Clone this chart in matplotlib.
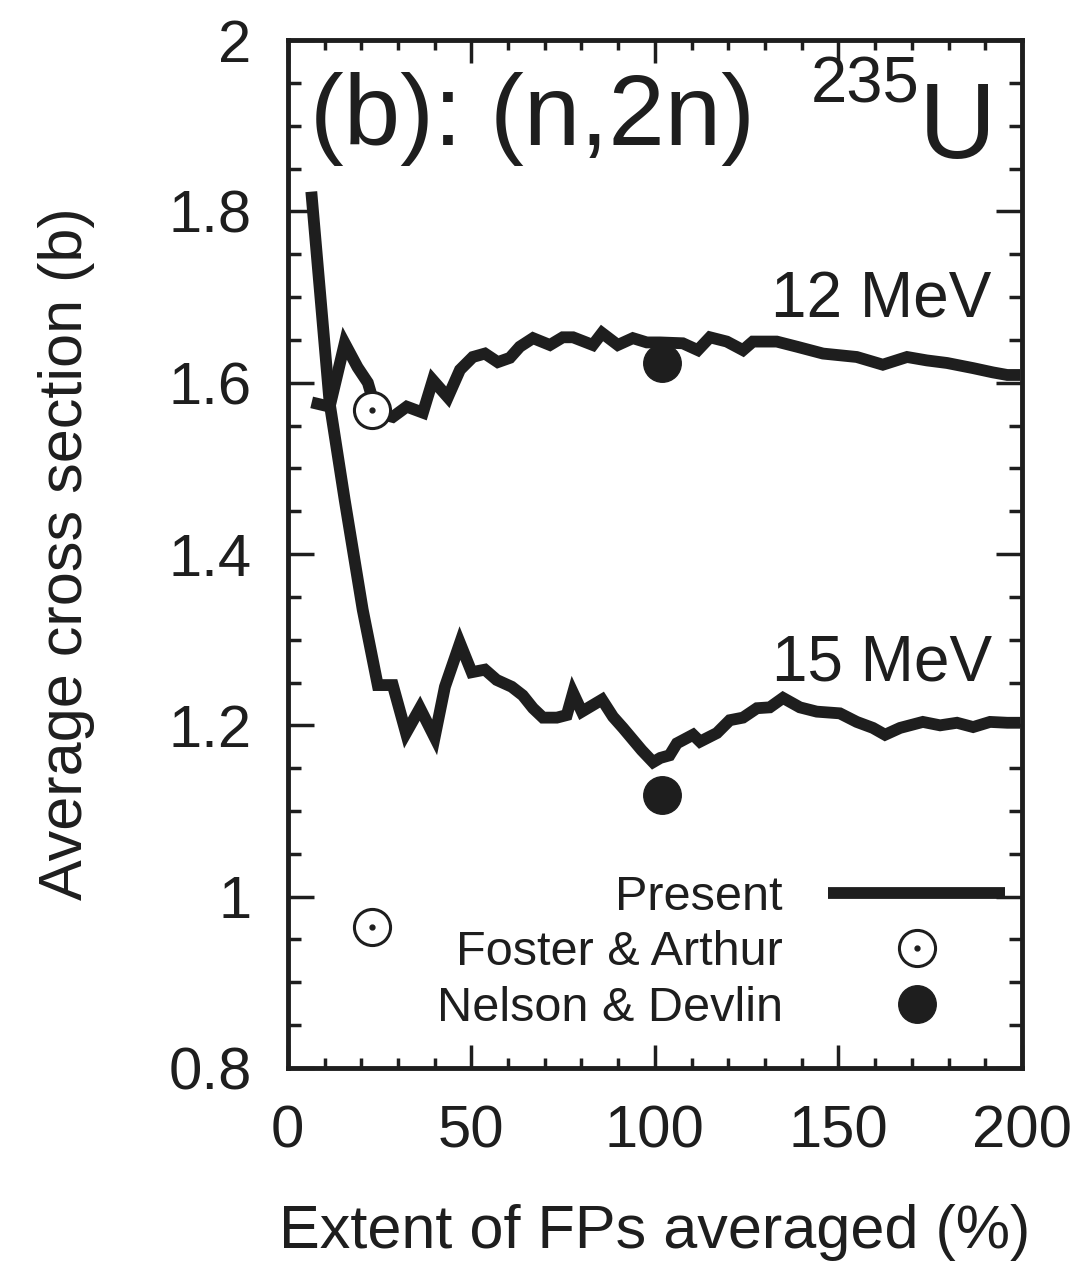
import matplotlib
matplotlib.use('Agg')
import matplotlib.pyplot as plt
from matplotlib.legend_handler import HandlerTuple
from matplotlib.ticker import MultipleLocator

plt.rcParams['font.family'] = ['Liberation Sans', 'DejaVu Sans']

INK = '#1e1e1e'

# 15 MeV average cross section vs extent of FPs averaged (%)
x_15 = [6.4, 11.4, 15.5, 20.4, 24.5, 28.6, 32.2, 36.0, 40.0, 42.8, 46.9, 50.1,
        53.7, 56.9, 61.0, 64.0, 66.8, 69.5, 73.3, 76.0, 77.7, 80.1, 85.6, 88.6,
        91.3, 96.4, 99.5, 101.5, 104.0, 106.0, 110.4, 112.3, 116.9, 120.4, 124.0,
        127.8, 131.3, 134.9, 139.5, 144.1, 150.4, 155.0, 159.4, 162.7, 166.8,
        173.0, 177.7, 182.3, 186.7, 191.3, 196.0, 199.5]
y_15 = [1.823, 1.576, 1.463, 1.335, 1.247, 1.247, 1.191, 1.220, 1.186, 1.245,
        1.296, 1.262, 1.265, 1.253, 1.245, 1.235, 1.220, 1.209, 1.209, 1.212,
        1.238, 1.216, 1.230, 1.210, 1.197, 1.171, 1.157, 1.162, 1.165, 1.179,
        1.189, 1.181, 1.191, 1.206, 1.209, 1.220, 1.221, 1.232, 1.221, 1.216,
        1.214, 1.204, 1.197, 1.189, 1.197, 1.204, 1.200, 1.203, 1.198, 1.204,
        1.203, 1.203]

# 12 MeV
x_12 = [6.5, 11.4, 15.5, 19.0, 21.8, 24.2, 28.6, 32.4, 36.8, 39.5, 43.6, 46.9,
        50.4, 53.7, 57.2, 60.5, 63.2, 66.8, 71.4, 74.9, 77.7, 83.1, 85.6, 89.9,
        94.0, 97.8, 101.4, 107.6, 111.7, 115.0, 119.6, 124.0, 126.7, 133.2,
        138.7, 145.8, 155.0, 162.1, 168.7, 174.1, 179.6, 186.7, 192.1, 196.0,
        199.5]
y_12 = [1.577, 1.572, 1.646, 1.618, 1.600, 1.565, 1.560, 1.572, 1.565, 1.603,
        1.583, 1.615, 1.630, 1.634, 1.624, 1.629, 1.642, 1.652, 1.644, 1.653,
        1.653, 1.644, 1.658, 1.644, 1.652, 1.647, 1.647, 1.646, 1.638, 1.653,
        1.648, 1.638, 1.648, 1.648, 1.642, 1.634, 1.630, 1.621, 1.630, 1.626,
        1.623, 1.617, 1.612, 1.609, 1.609]

# experimental points
foster_x = [22.9, 22.9]
foster_y = [1.568, 0.965]
nelson_x = [101.9, 101.9]
nelson_y = [1.623, 1.119]

fig = plt.figure(figsize=(10.82, 12.63), dpi=100)
ax = fig.add_axes([0.266, 0.1544, 0.6785, 0.8139])

line_kw = dict(color=INK, lw=8.5, solid_joinstyle='miter', solid_capstyle='butt')
present, = ax.plot(x_15, y_15, **line_kw)
ax.plot(x_12, y_12, **line_kw)

foster, = ax.plot(foster_x, foster_y, 'o', ms=26, mfc='white', mec=INK, mew=2.2,
                  ls='none')
foster_dot, = ax.plot(foster_x, foster_y, 'o', ms=3.5, color=INK, ls='none')
nelson, = ax.plot(nelson_x, nelson_y, 'o', ms=27, color=INK, ls='none')

ax.set_xlim(0, 200)
ax.set_ylim(0.8, 2.0)
ax.xaxis.set_major_locator(MultipleLocator(50))
ax.xaxis.set_minor_locator(MultipleLocator(10))
ax.yaxis.set_minor_locator(MultipleLocator(0.05))
ax.set_yticks([0.8, 1.0, 1.2, 1.4, 1.6, 1.8, 2.0])
ax.set_yticklabels(['0.8', '1', '1.2', '1.4', '1.6', '1.8', '2'])

ax.tick_params(which='both', direction='in', top=True, right=True, color=INK,
               labelcolor=INK, labelsize=43, width=2.5)
ax.tick_params(axis='x', which='major', length=16.5, pad=26)
ax.tick_params(axis='x', which='minor', length=7.5)
ax.tick_params(axis='y', which='major', length=19, pad=26)
ax.tick_params(axis='y', which='minor', length=9.5)
for s in ax.spines.values():
    s.set_linewidth(3.5)
    s.set_color(INK)

ax.set_xlabel('Extent of FPs averaged (%)', fontsize=44, color=INK)
ax.set_ylabel('Average cross section (b)', fontsize=44, color=INK)
ax.xaxis.set_label_coords(0.5, -0.132)
ax.xaxis.label.set_va('top')
ax.yaxis.set_label_coords(-0.262, 0.5)

ax.text(0.030, 0.898, '(b): (n,2n)', transform=ax.transAxes, fontsize=73,
        color=INK, va='baseline', ha='left')
ax.text(0.861, 0.939, '235', transform=ax.transAxes, fontsize=47,
        color=INK, va='baseline', ha='right')
ax.text(0.859, 0.885, 'U', transform=ax.transAxes, fontsize=77,
        color=INK, va='baseline', ha='left')
ax.text(0.959, 0.7296, '12 MeV', transform=ax.transAxes, fontsize=46,
        color=INK, va='baseline', ha='right')
ax.text(0.959, 0.377, '15 MeV', transform=ax.transAxes, fontsize=46,
        color=INK, va='baseline', ha='right')

leg = ax.legend([present, (foster, foster_dot), nelson],
                ['Present', 'Foster & Arthur', 'Nelson & Devlin'],
                handler_map={tuple: HandlerTuple(ndivide=1, pad=0)},
                loc='lower right', bbox_to_anchor=(0.977, 0.036),
                markerfirst=False, frameon=False, fontsize=35,
                borderpad=0, borderaxespad=0, handlelength=3.64,
                handletextpad=0.93, labelspacing=0.22, numpoints=1)
for t in leg.get_texts():
    t.set_color(INK)

fig.savefig('out.png', dpi=100)
